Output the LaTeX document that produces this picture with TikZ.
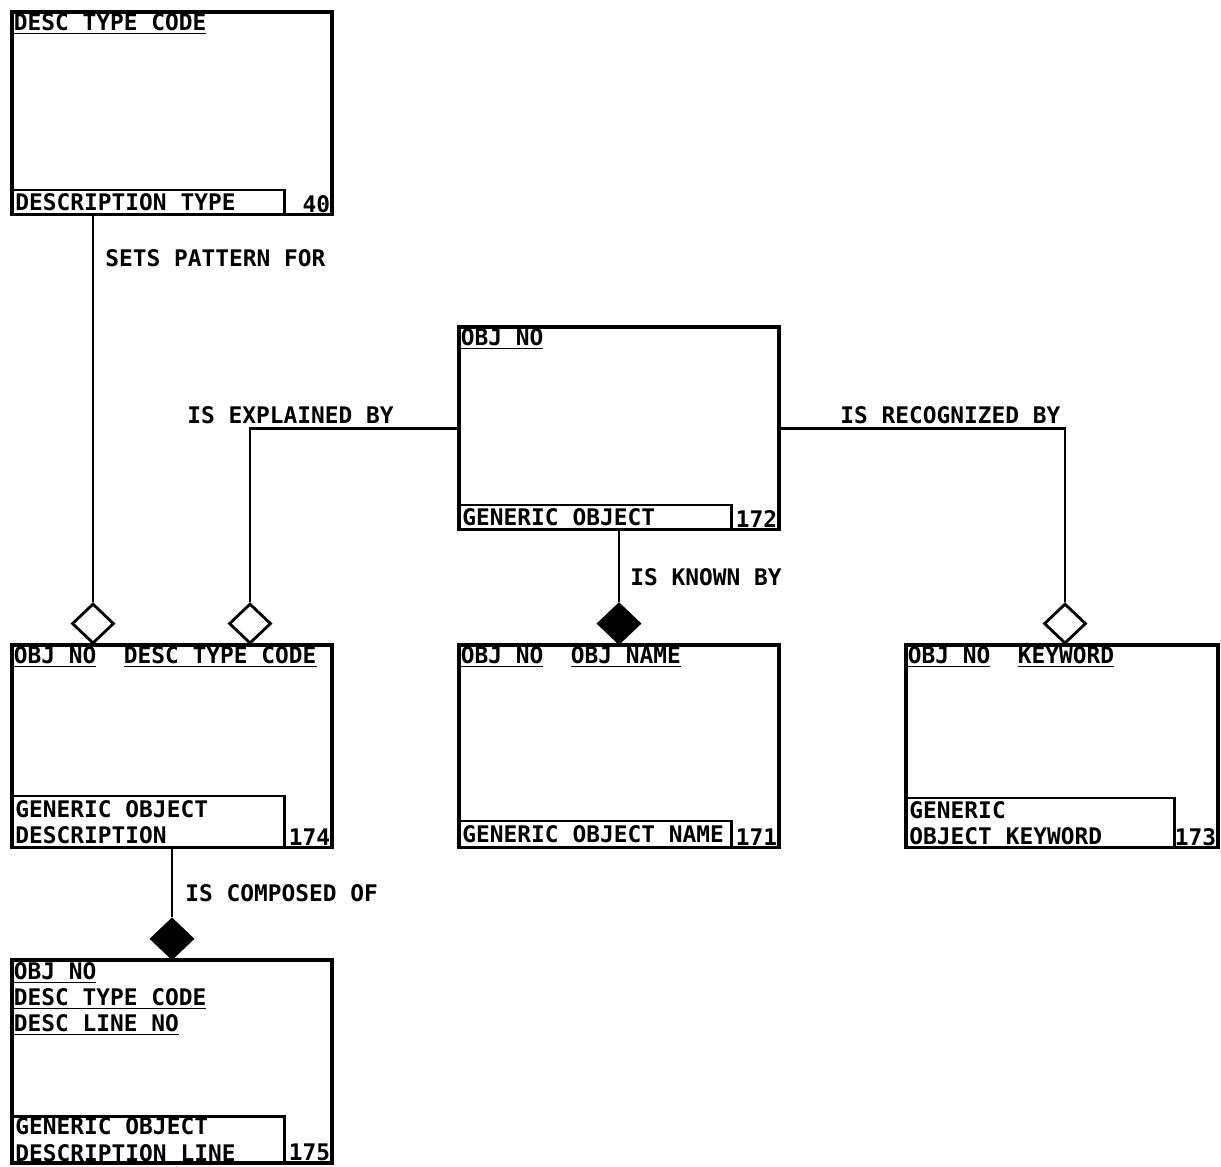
\documentclass[tikz,border=0pt]{standalone}
\usepackage{fontspec}
\setmonofont{DejaVu Sans Mono}
\usetikzlibrary{shapes.geometric,positioning,calc}
\newcommand{\erfont}{\ttfamily\bfseries\fontsize{13}{15}\selectfont}

\begin{document}
\begin{tikzpicture}[
  ent/.style={draw, line width=2.2pt, minimum width=6.4cm, minimum height=4.05cm, inner sep=0pt},
  namebox/.style={draw, line width=1.6pt, anchor=south west, text width=5.3cm,
                  inner xsep=0.08cm, inner ysep=1pt, minimum height=0.5cm, align=flush left, font=\erfont},
  num/.style={anchor=south east, inner sep=2pt, font=\erfont},
  key/.style={anchor=north west, inner sep=2pt, align=flush left, font=\erfont},
  rel/.style={anchor=west, inner sep=0pt, font=\erfont},
  opn/.style={diamond, draw, line width=1.6pt, fill=white, minimum width=0.84cm,
              minimum height=0.8cm, inner sep=0pt, anchor=south},
  ful/.style={opn, fill=black},
  conn/.style={line width=1.6pt}]
  \useasboundingbox (0,0) rectangle (24.42,23.32);

  \node[ent] (b40) at (3.44,21.055) {};
  \node[key] at (b40.north west) {\underline{DESC TYPE CODE}};
  \node[namebox] at (b40.south west) {DESCRIPTION TYPE};
  \node[num] at (b40.south east) {40};

  \node[ent] (b172) at (12.38,14.755) {};
  \node[key] at (b172.north west) {\underline{OBJ NO}};
  \node[namebox] at (b172.south west) {GENERIC OBJECT};
  \node[num] at (b172.south east) {172};

  \node[ent] (b174) at (3.44,8.395) {};
  \node[key] at (b174.north west) {\underline{OBJ NO}\ \ \underline{DESC TYPE CODE}};
  \node[namebox, minimum height=1.04cm] at (b174.south west) {GENERIC OBJECT\\DESCRIPTION};
  \node[num] at (b174.south east) {174};

  \node[ent] (b171) at (12.38,8.395) {};
  \node[key] at (b171.north west) {\underline{OBJ NO}\ \ \underline{OBJ NAME}};
  \node[namebox, minimum height=0.54cm] at (b171.south west) {GENERIC OBJECT NAME};
  \node[num] at (b171.south east) {171};

  \node[ent, minimum width=6.24cm] (b173) at (21.24,8.395) {};
  \node[key] at (b173.north west) {\underline{OBJ NO}\ \ \underline{KEYWORD}};
  \node[namebox, text width=5.22cm, minimum height=1.0cm] at (b173.south west) {GENERIC\\OBJECT KEYWORD};
  \node[num] at (b173.south east) {173};

  \node[ent] (b175) at (3.44,2.09) {};
  \node[key] at (b175.north west) {\underline{OBJ NO}\\\underline{DESC TYPE CODE}\\\underline{DESC LINE NO}};
  \node[namebox, minimum height=0.82cm] at (b175.south west) {GENERIC OBJECT\\DESCRIPTION LINE};
  \node[num] at (b175.south east) {175};

  \node[opn] (d1) at (1.86,10.42) {};
  \node[opn] (d2) at (5.0,10.42) {};
  \node[opn] (d3) at (21.3,10.42) {};
  \node[ful] (d4) at (12.38,10.42) {};
  \node[ful] (d5) at (3.44,4.115) {};

  \draw[conn] (b40.south -| d1.north) -- (d1.north);
  \draw[conn] (b172.west) -| (d2.north);
  \draw[conn] (b172.east) -| (d3.north);
  \draw[conn] (b172.south) -- (d4.north);
  \draw[conn] (b174.south) -- (d5.north);

  \node[rel] at (2.1,18.16) {SETS PATTERN FOR};
  \node[rel] at (3.74,15.02) {IS EXPLAINED BY};
  \node[rel] at (16.8,15.02) {IS RECOGNIZED BY};
  \node[rel] at (12.6,11.78) {IS KNOWN BY};
  \node[rel] at (3.7,5.46) {IS COMPOSED OF};
\end{tikzpicture}
\end{document}
